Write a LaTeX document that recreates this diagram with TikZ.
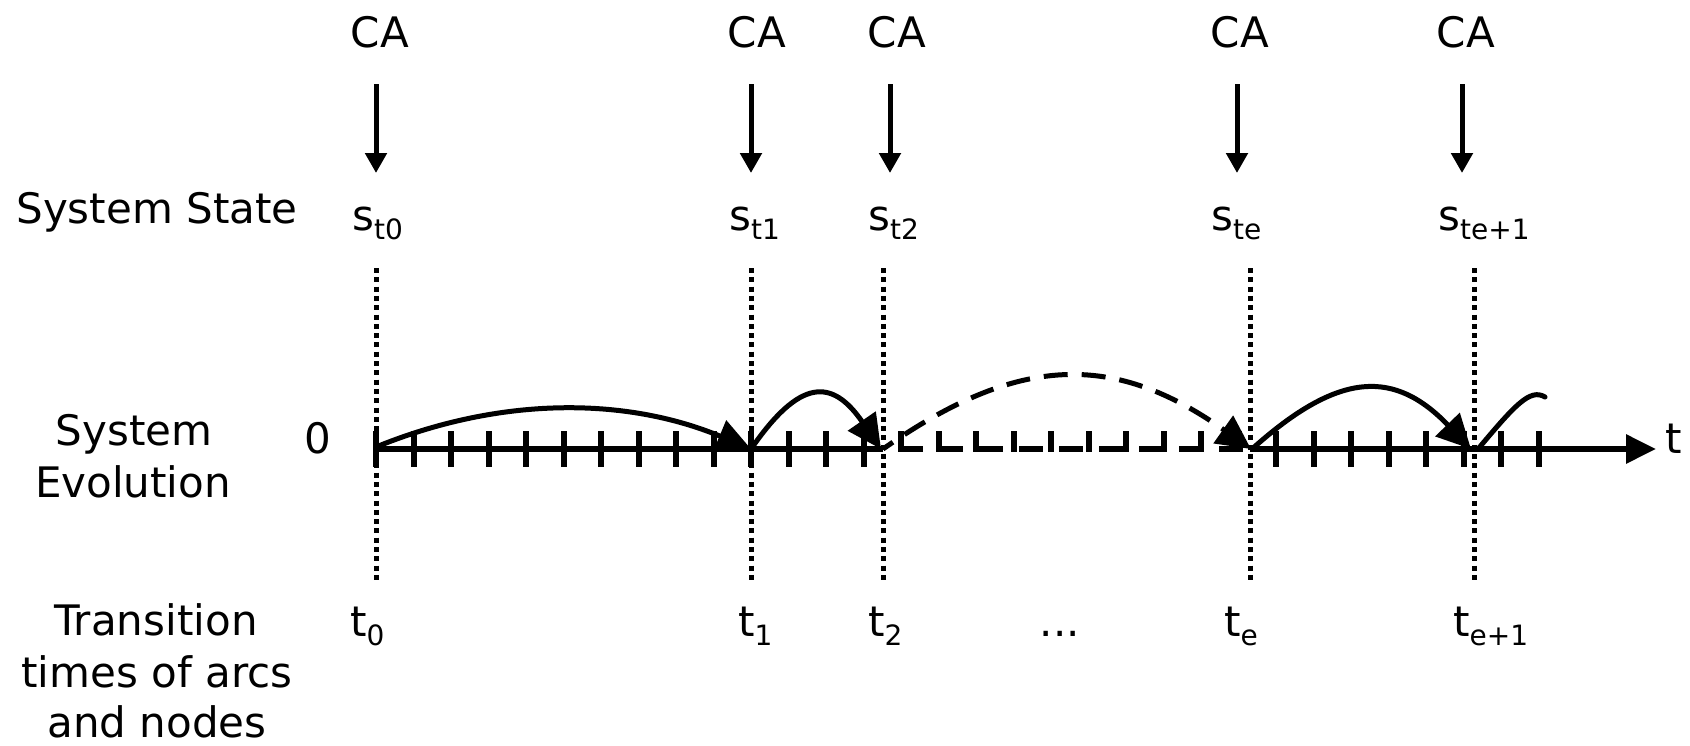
\documentclass[tikz,border=0pt]{standalone}
\usepackage{fontspec}
\setmainfont{DejaVu Sans}
\usetikzlibrary{arrows.meta}
\newcommand{\lsub}[1]{\raisebox{-9pt}{\fontsize{28}{28}\selectfont #1}}
\begin{document}
\begin{tikzpicture}[x=1pt,y=-1pt,
  lbl/.style={font=\fontsize{42}{51}\selectfont, inner sep=0pt, anchor=base},
  lblw/.style={lbl, anchor=base west},
  caarrow/.style={line width=5pt, -{Triangle[length=20pt,width=21pt]}},
  vdots/.style={line width=5pt, dash pattern=on 5pt off 4.3pt},
  axisline/.style={line width=6pt},
  tickmark/.style={line width=6pt},
  evoarc/.style={line width=5pt, -{Triangle[length=34pt,width=33pt]}},
]
\useasboundingbox (0,0) rectangle (1690,745);

% ---------- labels ----------
\node[lbl] (ca0) at (380,47) {CA};
\node[lbl] (ca1) at (757,47) {CA};
\node[lbl] (ca2) at (897,47) {CA};
\node[lbl] (ca3) at (1240,47) {CA};
\node[lbl] (ca4) at (1466,47) {CA};

\node[lbl] (sysstate) at (157,223) {System State};
\node[lblw] (s0) at (352,230) {s\lsub{t0}};
\node[lblw] (s1) at (729,230) {s\lsub{t1}};
\node[lblw] (s2) at (868,230) {s\lsub{t2}};
\node[lblw] (se) at (1211,230) {s\lsub{te}};
\node[lblw] (se1) at (1438,230) {s\lsub{te+1}};

\node[lbl] (evo1) at (134,445) {System};
\node[lbl] (evo2) at (133,497) {Evolution};
\node[lbl] (zero) at (318,453) {0};
\node[lblw] (taxis) at (1665,453) {t};

\node[lbl] (tr1) at (156,635) {Transition};
\node[lbl] (tr2) at (157,687) {times of arcs};
\node[lbl] (tr3) at (157,737) {and nodes};

\node[lblw] (t0) at (350,636) {t\lsub{0}};
\node[lblw] (t1) at (738,636) {t\lsub{1}};
\node[lblw] (t2) at (868,636) {t\lsub{2}};
\node[lbl] (tdots) at (1060,636) {...};
\node[lblw] (te) at (1224,636) {t\lsub{e}};
\node[lblw] (te1) at (1453,636) {t\lsub{e+1}};

% ---------- CA arrows ----------
\foreach \n/\x in {0/376,1/751,2/890,3/1237,4/1462}{
  \coordinate (cas\n) at (\x,84);
  \coordinate (cae\n) at (\x,173);
  \draw[caarrow] (cas\n) -- (cae\n);
}

% ---------- dotted verticals ----------
\foreach \n/\x in {0/376,1/751,2/883,3/1250,4/1474}{
  \coordinate (dt\n) at (\x,268);
  \coordinate (db\n) at (\x,584);
  \draw[vdots] (dt\n) -- (db\n);
}

% ---------- ticks ----------
\foreach \k in {0,...,13,24,25,...,31}
  \draw[tickmark] ({376+37.5*\k},431) -- ({376+37.5*\k},467);
\foreach \k in {14,...,23}
  \draw[tickmark] ({376+37.5*\k},431) -- ({376+37.5*\k},452);

% ---------- time axis ----------
\coordinate (ax0) at (376,449);
\coordinate (ax2) at (883,449);
\coordinate (axe) at (1250,449);
\coordinate (axend) at (1656,449);
\draw[axisline] (ax0) -- (ax2);
\draw[axisline, dash pattern=on 24pt off 16pt, dash phase=24pt] (ax2) -- (axe);
\draw[axisline, -{Triangle[length=30pt,width=28pt]}] (axe) -- (axend);

% ---------- evolution arcs ----------
\coordinate (a1s) at (376,447);
\coordinate (a1e) at (751,449);
\coordinate (a2s) at (751,449);
\coordinate (a2e) at (881,449);
\coordinate (a3s) at (883,449);
\coordinate (a3e) at (1251,449);
\coordinate (a4s) at (1252,449);
\coordinate (a4e) at (1471,449);
\coordinate (a5s) at (1478,449);
\coordinate (a5e) at (1545,397);
\draw[evoarc] (a1s) .. controls (501,396) and (626,397) .. (a1e);
\draw[evoarc] (a2s) .. controls (800,378) and (832,378) .. (a2e);
\draw[evoarc, dash pattern=on 24pt off 14pt, dash phase=12pt] (a3s) .. controls (1020,353) and (1115,353) .. (a3e);
\draw[evoarc] (a4s) .. controls (1340,370) and (1395,370) .. (a4e);
\draw[line width=5pt, line cap=round] (a5s) .. controls (1515,405) and (1530,388) .. (a5e);
\end{tikzpicture}
\end{document}
